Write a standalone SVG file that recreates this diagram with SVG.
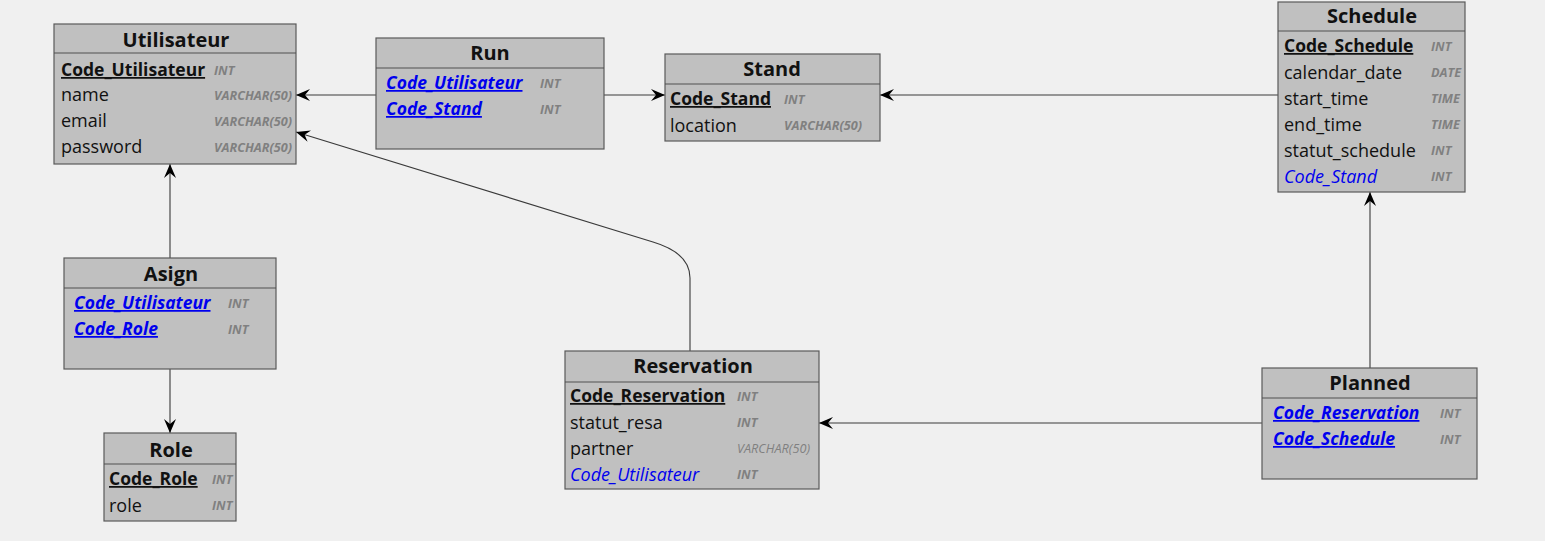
<svg xmlns="http://www.w3.org/2000/svg" width="1545" height="541" viewBox="0 0 1545 541">
<style>
.box{fill:#c0c0c0;stroke:#5a5a5a;stroke-width:1.2}
.hdr{stroke:#505050;stroke-width:1.2}
.title{font-family:"Open Sans","Noto Sans",sans-serif;font-weight:bold;font-size:20px;fill:#111;text-anchor:middle}
.f{font-family:"Open Sans","Noto Sans",sans-serif;font-size:18px;fill:#111}
.pk{font-weight:bold;font-size:17.5px;text-decoration:underline}
.fk{fill:#0000ee;font-style:italic}
.pf{fill:#0000ee;font-style:italic;font-weight:bold;font-size:17.5px;text-decoration:underline}
.t{font-family:"Open Sans","Noto Sans",sans-serif;font-size:12.7px;font-weight:bold;font-style:italic;fill:#808080}
.c{fill:none;stroke:#3a3a3a;stroke-width:1.1;marker-end:url(#arr)}
</style>
<defs>
<marker id="arr" viewBox="0 0 14 12" refX="14" refY="6" markerWidth="14" markerHeight="12" markerUnits="userSpaceOnUse" orient="auto">
<path d="M0,0 L14,6 L0,12 L5,6 Z" fill="#000"/>
</marker>
</defs>
<rect width="1545" height="541" fill="#f0f0f0"/>
<g id="connectors">
<path class="c" d="M376,95 L296,95"/>
<path class="c" d="M604,95 L665,95"/>
<path class="c" d="M1278,95 L880,95"/>
<path class="c" d="M170,258 L170,164"/>
<path class="c" d="M170,369 L170,433"/>
<path class="c" d="M690,351 L690,278 Q690,253 653,242 L296,132"/>
<path class="c" d="M1262,423 L819,423"/>
<path class="c" d="M1370,368 L1370,192"/>
</g>
<g id="Utilisateur">
<rect class="box" x="54" y="24" width="242" height="140"/>
<line class="hdr" x1="54" y1="53" x2="296" y2="53"/>
<text class="title" x="176" y="47">Utilisateur</text>
<text class="f pk" x="61" y="76">Code_Utilisateur</text><text class="t" x="214" y="75">INT</text>
<text class="f" x="61" y="101">name</text><text class="t" x="214" y="100">VARCHAR(50)</text>
<text class="f" x="61" y="127">email</text><text class="t" x="214" y="126">VARCHAR(50)</text>
<text class="f" x="61" y="153">password</text><text class="t" x="214" y="152">VARCHAR(50)</text>
</g>
<g id="Run">
<rect class="box" x="376" y="38" width="228" height="111"/>
<line class="hdr" x1="376" y1="68" x2="604" y2="68"/>
<text class="title" x="490" y="60">Run</text>
<text class="f pf" x="386" y="89">Code_Utilisateur</text><text class="t" x="540" y="88">INT</text>
<text class="f pf" x="386" y="115">Code_Stand</text><text class="t" x="540" y="114">INT</text>
</g>
<g id="Stand">
<rect class="box" x="665" y="54" width="215" height="87"/>
<line class="hdr" x1="665" y1="84" x2="880" y2="84"/>
<text class="title" x="772" y="76">Stand</text>
<text class="f pk" x="670" y="105">Code_Stand</text><text class="t" x="784" y="104">INT</text>
<text class="f" x="670" y="132">location</text><text class="t" x="784" y="130">VARCHAR(50)</text>
</g>
<g id="Schedule">
<rect class="box" x="1278" y="2" width="187" height="190"/>
<line class="hdr" x1="1278" y1="31" x2="1465" y2="31"/>
<text class="title" x="1372" y="23">Schedule</text>
<text class="f pk" x="1284" y="52">Code_Schedule</text><text class="t" x="1431" y="51">INT</text>
<text class="f" x="1284" y="79">calendar_date</text><text class="t" x="1431" y="77">DATE</text>
<text class="f" x="1284" y="105">start_time</text><text class="t" x="1431" y="103">TIME</text>
<text class="f" x="1284" y="131">end_time</text><text class="t" x="1431" y="129">TIME</text>
<text class="f" x="1284" y="157">statut_schedule</text><text class="t" x="1431" y="155">INT</text>
<text class="f fk" x="1284" y="183">Code_Stand</text><text class="t" x="1431" y="181">INT</text>
</g>
<g id="Asign">
<rect class="box" x="64" y="258" width="212" height="111"/>
<line class="hdr" x1="64" y1="288" x2="276" y2="288"/>
<text class="title" x="171" y="281">Asign</text>
<text class="f pf" x="74" y="309">Code_Utilisateur</text><text class="t" x="228" y="308">INT</text>
<text class="f pf" x="74" y="335">Code_Role</text><text class="t" x="228" y="334">INT</text>
</g>
<g id="Role">
<rect class="box" x="104" y="433" width="132" height="88"/>
<line class="hdr" x1="104" y1="464" x2="236" y2="464"/>
<text class="title" x="171" y="457">Role</text>
<text class="f pk" x="109" y="485">Code_Role</text><text class="t" x="212" y="484">INT</text>
<text class="f" x="109" y="512">role</text><text class="t" x="212" y="510">INT</text>
</g>
<g id="Reservation">
<rect class="box" x="565" y="351" width="254" height="138"/>
<line class="hdr" x1="565" y1="382" x2="819" y2="382"/>
<text class="title" x="693" y="373">Reservation</text>
<text class="f pk" x="570" y="402">Code_Reservation</text><text class="t" x="737" y="401">INT</text>
<text class="f" x="570" y="429">statut_resa</text><text class="t" x="737" y="427">INT</text>
<text class="f" x="570" y="455">partner</text><text class="t" x="737" y="453" style="font-weight:normal">VARCHAR(50)</text>
<text class="f fk" x="570" y="481">Code_Utilisateur</text><text class="t" x="737" y="479">INT</text>
</g>
<g id="Planned">
<rect class="box" x="1262" y="368" width="215" height="111"/>
<line class="hdr" x1="1262" y1="398" x2="1477" y2="398"/>
<text class="title" x="1370" y="390">Planned</text>
<text class="f pf" x="1273" y="419">Code_Reservation</text><text class="t" x="1440" y="418">INT</text>
<text class="f pf" x="1273" y="445">Code_Schedule</text><text class="t" x="1440" y="444">INT</text>
</g>
</svg>
